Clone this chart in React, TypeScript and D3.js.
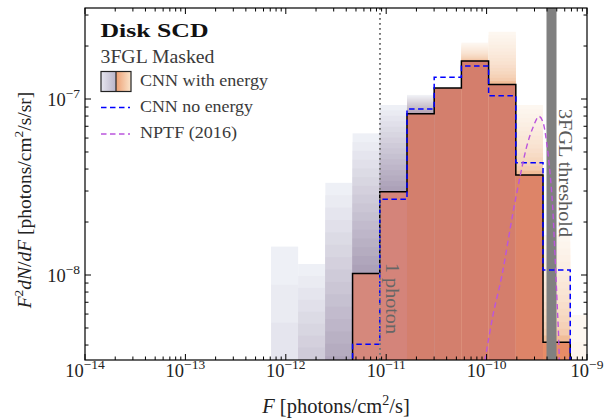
import React from "react";
import * as d3 from "d3";

const WIDTH = 605;
const HEIGHT = 420;
const PLOT = { left: 85, right: 587, top: 8, bottom: 360 };
const FONT = "'Liberation Serif', 'DejaVu Serif', serif";

// log10 of the flux bin edges [photons/cm^2/s]
const binEdgesLog = [
  -12.147, -11.877, -11.606, -11.335, -11.064, -10.793, -10.522, -10.251,
  -9.98, -9.709, -9.438, -9.167, -8.896,
];

// CNN with energy: median F^2 dN/dF in each bin
const medianWithEnergy = [
  5e-12, 9.5e-10, 2.5e-9, 1.02e-8, 2.97e-8, 8.25e-8, 1.155e-7, 1.645e-7,
  1.21e-7, 3.7e-8, 4.15e-9, 2e-11,
];
// CNN with energy: upper edge of the posterior band in each bin
const upperWithEnergy = [
  1.45e-8, 1.155e-8, 3.34e-8, 6.38e-8, 9.25e-8, 1.055e-7, 1.155e-7, 2.09e-7,
  2.41e-7, 9.25e-8, 1.69e-8, 5.93e-9,
];
// CNN without energy: median in each bin (null where empty)
const medianNoEnergy: (number | null)[] = [
  null, null, null, 4.04e-9, 2.69e-8, 8.77e-8, 1.33e-7, 1.54e-7, 1.045e-7,
  4.35e-8, 1.067e-8, null,
];

// NPTF (2016) best-fit SCD, log10 F and log10 F^2 dN/dF
const nptfLogF = [
  -10.06, -10.016, -9.936, -9.85, -9.734, -9.667, -9.601, -9.535, -9.478,
  -9.435, -9.401, -9.368, -9.342, -9.319, -9.299, -9.276, -9.268,
];
const nptfLogY = [
  -8.64, -8.483, -8.227, -8.01, -7.636, -7.441, -7.271, -7.157, -7.099,
  -7.138, -7.252, -7.422, -7.612, -7.886, -8.142, -8.483, -8.7,
];

const onePhotonFlux = 8.67e-12;
const thresholdBand = [3.95e-10, 4.97e-10];
const xDecades = [-14, -13, -12, -11, -10, -9];
const yDecades = [-8, -7];
const yDomain = [3.289e-9, 3.289e-7];

const LAYERS = 16;

export default function App() {
  const x = d3.scaleLog().domain([1e-14, 1e-9]).range([PLOT.left, PLOT.right]);
  const y = d3.scaleLog().domain(yDomain).range([PLOT.bottom, PLOT.top]);

  const edgeX = binEdgesLog.map((e) => x(10 ** e));
  const floor = 1e-12;

  // hue of the posterior band: blue-grey at low flux, orange at high flux
  const hue = d3.scaleLinear().domain([-10.7, -10.35]).range([0, 1]).clamp(true);
  const baseColor = d3
    .scaleLinear<string>()
    .domain([-11.2, -10.93, -10.66, -9.84, -9.57, -9.3])
    .range(["#d5887c", "#d4847a", "#d37f6d", "#d47e6c", "#dd8468", "#e88c66"]);

  const bands: JSX.Element[] = [];
  const bases: JSX.Element[] = [];
  binEdgesLog.slice(0, -1).forEach((e0, i) => {
    const e1 = binEdgesLog[i + 1];
    const center = (e0 + e1) / 2;
    const lo = Math.log10(medianWithEnergy[i]);
    const hi = Math.log10(upperWithEnergy[i]);
    const t = hue(center);
    const light = d3.interpolateRgb("#eef0f6", "#fdf7f0")(t);
    const dark = d3.interpolateRgb("#aca1b8", "#f1bd98")(t);
    const gamma = t > 0.5 ? 0.5 : 1;
    if (hi > lo) {
      for (let k = LAYERS; k >= 1; k--) {
        const lev = lo + ((hi - lo) * k) / LAYERS;
        const col = d3.interpolateRgb(dark, light)(((k - 1) / (LAYERS - 1)) ** gamma);
        const yy = y(10 ** lev);
        bands.push(
          <rect
            key={`b${i}-${k}`}
            x={edgeX[i]}
            y={yy}
            width={edgeX[i + 1] - edgeX[i]}
            height={Math.max(0, y(floor) - yy)}
            fill={col}
          />
        );
      }
    }
    if (medianWithEnergy[i] > yDomain[0]) {
      const yy = y(medianWithEnergy[i]);
      bases.push(
        <rect
          key={`m${i}`}
          x={edgeX[i]}
          y={yy}
          width={edgeX[i + 1] - edgeX[i]}
          height={PLOT.bottom - yy + 2}
          fill={baseColor(center)}
        />
      );
    }
  });

  const stepPath = (vals: (number | null)[]) => {
    let d = `M${edgeX[0]},${y(floor)}`;
    vals.forEach((v, i) => {
      const yy = y(v ?? floor);
      d += `L${edgeX[i]},${yy}L${edgeX[i + 1]},${yy}`;
    });
    d += `L${edgeX[edgeX.length - 1]},${y(floor)}`;
    return d;
  };

  const nptfLine = d3
    .line<number>()
    .x((_, i) => x(10 ** nptfLogF[i]))
    .y((_, i) => y(10 ** nptfLogY[i]))
    .curve(d3.curveMonotoneX);

  // ticks
  const xMinor: number[] = [];
  xDecades.slice(0, -1).forEach((d) => {
    for (let m = 2; m <= 9; m++) xMinor.push(m * 10 ** d);
  });
  const yMinor: number[] = [];
  [-9, -8, -7].forEach((d) => {
    for (let m = 2; m <= 9; m++) {
      const v = m * 10 ** d;
      if (v > yDomain[0] && v < yDomain[1]) yMinor.push(v);
    }
  });
  const MAJ = 6;
  const MIN = 3.5;

  const tickLines: JSX.Element[] = [];
  xDecades.forEach((d) => {
    const xx = x(10 ** d);
    tickLines.push(<line key={`xb${d}`} x1={xx} x2={xx} y1={PLOT.bottom} y2={PLOT.bottom - MAJ} />);
    tickLines.push(<line key={`xt${d}`} x1={xx} x2={xx} y1={PLOT.top} y2={PLOT.top + MAJ} />);
  });
  xMinor.forEach((v, j) => {
    const xx = x(v);
    tickLines.push(<line key={`xbm${j}`} x1={xx} x2={xx} y1={PLOT.bottom} y2={PLOT.bottom - MIN} />);
    tickLines.push(<line key={`xtm${j}`} x1={xx} x2={xx} y1={PLOT.top} y2={PLOT.top + MIN} />);
  });
  yDecades.forEach((d) => {
    const yy = y(10 ** d);
    tickLines.push(<line key={`yl${d}`} x1={PLOT.left} x2={PLOT.left + MAJ} y1={yy} y2={yy} />);
    tickLines.push(<line key={`yr${d}`} x1={PLOT.right} x2={PLOT.right - MAJ} y1={yy} y2={yy} />);
  });
  yMinor.forEach((v, j) => {
    const yy = y(v);
    tickLines.push(<line key={`ylm${j}`} x1={PLOT.left} x2={PLOT.left + MIN} y1={yy} y2={yy} />);
    tickLines.push(<line key={`yrm${j}`} x1={PLOT.right} x2={PLOT.right - MIN} y1={yy} y2={yy} />);
  });

  const tx1 = x(thresholdBand[0]);
  const tx2 = x(thresholdBand[1]);
  const px = x(onePhotonFlux);

  return (
    <svg
      width={WIDTH}
      height={HEIGHT}
      style={{ position: "absolute", left: 0, top: 0, background: "#fff" }}
      fontFamily={FONT}
    >
      <defs>
        <clipPath id="plotArea">
          <rect x={PLOT.left} y={PLOT.top} width={PLOT.right - PLOT.left} height={PLOT.bottom - PLOT.top} />
        </clipPath>
        <linearGradient id="swBlue" x1="0" x2="1" y1="0" y2="0">
          <stop offset="0" stopColor="#e6e6ef" />
          <stop offset="1" stopColor="#b9b4c9" />
        </linearGradient>
        <linearGradient id="swOrange" x1="0" x2="1" y1="0" y2="0">
          <stop offset="0" stopColor="#eda074" />
          <stop offset="1" stopColor="#fbe5cc" />
        </linearGradient>
      </defs>
      <rect x={0} y={0} width={WIDTH} height={HEIGHT} fill="#fff" />

      <g clipPath="url(#plotArea)">
        {bands}
        {bases}
        <path d={stepPath(medianWithEnergy)} fill="none" stroke="#000" strokeWidth={1.5} />
        <rect x={tx1} y={PLOT.top} width={tx2 - tx1} height={PLOT.bottom - PLOT.top} fill="#808080" />
        <path
          d={stepPath(medianNoEnergy)}
          fill="none"
          stroke="#0000ff"
          strokeWidth={1.5}
          strokeDasharray="5.5,3.5"
        />
        <path
          d={nptfLine(nptfLogF) ?? ""}
          fill="none"
          stroke="#bb55dd"
          strokeWidth={1.4}
          strokeDasharray="5.5,3.5"
        />
        <line
          x1={px}
          x2={px}
          y1={PLOT.top}
          y2={PLOT.bottom}
          stroke="#777"
          strokeWidth={2}
          strokeDasharray="1.8,3.2"
        />
      </g>

      {/* vertical annotations */}
      <text
        transform={`translate(${px + 6},${263}) rotate(90)`}
        fontSize={19}
        fill="#666"
        textLength={71}
        lengthAdjust="spacingAndGlyphs"
      >
        1 photon
      </text>
      <text
        transform={`translate(${tx2 + 2.5},${109}) rotate(90)`}
        fontSize={18}
        fill="#5a5a5a"
        textLength={128}
        lengthAdjust="spacingAndGlyphs"
      >
        3FGL threshold
      </text>

      {/* frame and ticks */}
      <rect
        x={PLOT.left}
        y={PLOT.top}
        width={PLOT.right - PLOT.left}
        height={PLOT.bottom - PLOT.top}
        fill="none"
        stroke="#000"
        strokeWidth={1.2}
      />
      <g stroke="#000" strokeWidth={1}>
        {tickLines}
      </g>

      {/* tick labels */}
      {xDecades.map((d) => (
        <text key={`xl${d}`} x={x(10 ** d)} y={377} textAnchor="middle" fontSize={18.5} fill="#222">
          10
          <tspan dy={-8} fontSize={13.5}>
            {"\u2212" + Math.abs(d)}
          </tspan>
        </text>
      ))}
      {yDecades.map((d) => (
        <text key={`yl${d}`} x={80} y={y(10 ** d) + 6.5} textAnchor="end" fontSize={18.5} fill="#222">
          10
          <tspan dy={-8} fontSize={13.5}>
            {"\u2212" + Math.abs(d)}
          </tspan>
        </text>
      ))}

      {/* axis labels */}
      <text x={(PLOT.left + PLOT.right) / 2} y={413} textAnchor="middle" fontSize={20.5} fill="#222">
        <tspan fontStyle="italic">F</tspan> [photons/cm
        <tspan dy={-8} fontSize={14}>
          2
        </tspan>
        <tspan dy={8}>/s]</tspan>
      </text>
      <text
        transform={`translate(31,200) rotate(-90)`}
        textAnchor="middle"
        fontSize={19.5}
        fill="#222"
      >
        <tspan fontStyle="italic">F</tspan>
        <tspan dy={-8} fontSize={13.5}>
          2
        </tspan>
        <tspan dy={8} fontStyle="italic">
          dN
        </tspan>
        /<tspan fontStyle="italic">dF</tspan> [photons/cm
        <tspan dy={-8} fontSize={13.5}>
          2
        </tspan>
        <tspan dy={8}>/s/sr]</tspan>
      </text>

      {/* legend */}
      <text x={100.5} y={37.3} fontSize={19} fontWeight="bold" fill="#111" textLength={108} lengthAdjust="spacingAndGlyphs">
        Disk SCD
      </text>
      <text x={100.5} y={63.3} fontSize={18} fill="#3a3a3a" textLength={114} lengthAdjust="spacingAndGlyphs">
        3FGL Masked
      </text>
      <rect x={101} y={71.5} width={15} height={20} fill="url(#swBlue)" />
      <rect x={116} y={71.5} width={15} height={20} fill="url(#swOrange)" />
      <rect x={101} y={71.5} width={30} height={20} fill="none" stroke="#222" strokeWidth={1.2} />
      <line x1={116} x2={116} y1={71.5} y2={91.5} stroke="#222" strokeWidth={1.2} />
      <text x={140} y={86} fontSize={17} fill="#3a3a3a" textLength={128} lengthAdjust="spacingAndGlyphs">
        CNN with energy
      </text>
      <line x1={101} x2={130} y1={107.5} y2={107.5} stroke="#0000ff" strokeWidth={1.5} strokeDasharray="5.5,3.5" />
      <text x={140} y={112.3} fontSize={17} fill="#3a3a3a" textLength={113} lengthAdjust="spacingAndGlyphs">
        CNN no energy
      </text>
      <line x1={101} x2={130} y1={134} y2={134} stroke="#bb55dd" strokeWidth={1.4} strokeDasharray="5.5,3.5" />
      <text x={140} y={138.3} fontSize={17} fill="#3a3a3a" textLength={97} lengthAdjust="spacingAndGlyphs">
        NPTF (2016)
      </text>
    </svg>
  );
}
